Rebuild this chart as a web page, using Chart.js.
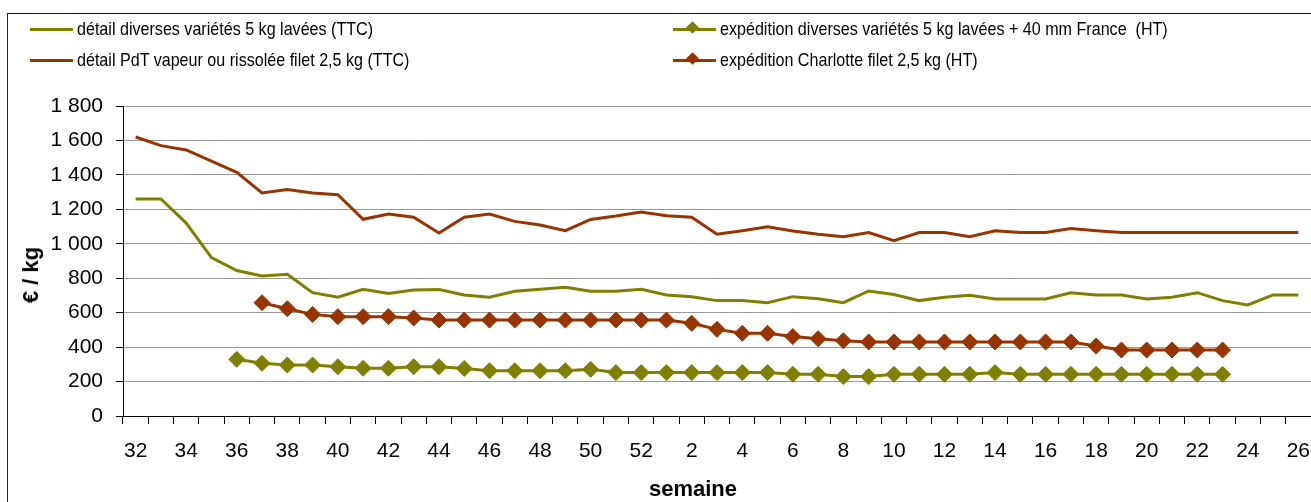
<!DOCTYPE html>
<html>
<head>
<meta charset="utf-8">
<script src="https://cdn.jsdelivr.net/npm/chart.js@4/dist/chart.umd.min.js"></script>
<style>
  html, body { margin: 0; padding: 0; background: #fff; }
  body { width: 1311px; height: 502px; position: relative; overflow: hidden; font-family: 'Liberation Sans', Arial, sans-serif; }
  #frame { position: absolute; left: 7px; top: 13px; width: 1320px; height: 520px; border-left: 1px solid #222; border-top: 1px solid #222; }
  #wrap { position: absolute; left: 0; top: 0; width: 1311px; height: 502px; }
  .leg { position: absolute; height: 22px; display: flex; align-items: center; }
  .sw { position: relative; width: 43px; height: 3px; margin-right: 4px; }
  .sw i { position: absolute; left: 15px; top: -5px; width: 9px; height: 9px; transform: rotate(45deg); }
  .leg span { font-size: 18.5px; color: #000; white-space: pre; transform: scaleX(0.87); transform-origin: left center; display: inline-block; }
  .atitle { position: absolute; font-size: 22px; font-weight: bold; white-space: pre; line-height: 1; }
  #ytitle { left: 31px; top: 275px; transform: translate(-50%, -50%) rotate(-90deg); }
  #xtitle { left: 693px; top: 489px; transform: translate(-50%, -50%); }
</style>
</head>
<body>
<div id="frame"></div>
<div id="wrap"><canvas id="c" width="1311" height="502"></canvas></div>
<div id="legend"></div>
<div id="ytitle" class="atitle">€ / kg</div>
<div id="xtitle" class="atitle">semaine</div>
<script>
// semaines 32 à 52 puis 1 à 26
const weeks = ['32','33','34','35','36','37','38','39','40','41','42','43','44','45','46','47','48','49','50','51','52',
  '1','2','3','4','5','6','7','8','9','10','11','12','13','14','15','16','17','18','19','20','21','22','23','24','25','26'];

const detailLavees = [1260,1260,1120,920,845,813,823,716,690,736,712,732,734,703,690,724,736,747,724,724,736,
  703,693,670,670,658,693,681,658,726,705,670,689,701,679,679,679,716,703,703,679,689,716,670,645,703,703];

const detailPdT = [1620,1570,1545,1480,1415,1295,1315,1295,1285,1142,1173,1154,1063,1154,1173,1130,1109,1076,1141,1161,1185,
  1163,1154,1055,1076,1099,1074,1055,1041,1065,1018,1065,1065,1041,1076,1065,1065,1088,1076,1065,1065,1065,1065,1065,1065,1065,1065];

const expLavees = [null,null,null,null,329,306,296,296,286,277,277,286,286,276,263,263,263,263,271,252,252,
  252,252,252,252,252,242,242,229,229,242,242,242,242,252,242,242,242,242,242,242,242,242,242,null,null,null];

const expCharlotte = [null,null,null,null,null,658,623,590,577,577,577,569,557,557,557,557,557,557,557,557,557,
  557,538,503,480,480,461,449,437,430,430,430,430,430,430,430,430,430,406,383,383,383,383,383,null,null,null];

const yTicks = { min: 0, max: 1800, step: 200 };

const OLIVE = '#808000';
const RUST = '#993300';

Chart.defaults.font.family = "'Liberation Sans', Arial, sans-serif";
Chart.defaults.color = '#000';

const lineDs = (label, data, color) => ({
  label, data, borderColor: color, backgroundColor: color, borderWidth: 3,
  pointRadius: 0, pointHoverRadius: 0, tension: 0, spanGaps: false
});
const markDs = (label, data, color) => ({
  label, data, borderColor: color, backgroundColor: color, borderWidth: 3,
  pointStyle: 'rectRot', pointRadius: 8, pointBorderWidth: 1, tension: 0
});

const chart = new Chart(document.getElementById('c'), {
  type: 'line',
  data: {
    labels: weeks,
    datasets: [
      lineDs('détail diverses variétés 5 kg lavées (TTC)', detailLavees, OLIVE),
      lineDs('détail PdT vapeur ou rissolée filet 2,5 kg (TTC)', detailPdT, RUST),
      markDs('expédition diverses variétés 5 kg lavées + 40 mm France  (HT)', expLavees, OLIVE),
      markDs('expédition Charlotte filet 2,5 kg (HT)', expCharlotte, RUST)
    ]
  },
  options: {
    responsive: false,
    animation: false,
    layout: { autoPadding: false, padding: { top: 106, left: 0, right: 0, bottom: 0 } },
    plugins: { legend: { display: false }, tooltip: { enabled: false } },
    scales: {
      x: {
        offset: true,
        grid: { offset: true, drawOnChartArea: false, drawTicks: true, tickLength: 8, tickColor: '#000' },
        border: { display: true, color: '#000', width: 1 },
        ticks: {
          autoSkip: false, maxRotation: 0, padding: 15, font: { size: 21 },
          callback: (v, i) => (i % 2 === 0 ? weeks[i] : '')
        },
        title: { display: false },
        afterFit: s => { s.height = 86; s.paddingLeft = 0; s.paddingRight = 0; }
      },
      y: {
        min: yTicks.min, max: yTicks.max,
        grid: { color: '#999', tickLength: 7, tickColor: '#000' },
        border: { display: true, color: '#000', width: 1 },
        ticks: {
          stepSize: yTicks.step, padding: 13, font: { size: 21 },
          callback: v => String(v).replace(/\B(?=(\d{3})+(?!\d))/g, ' ')
        },
        title: { display: false },
        afterFit: s => { s.width = 123; }
      }
    }
  }
});

// légende sur deux colonnes
const legendPos = [[30, 18], [30, 49], [673, 18], [673, 49]];
const legEl = document.getElementById('legend');
chart.data.datasets.forEach((ds, i) => {
  const d = document.createElement('div');
  d.className = 'leg';
  d.style.left = legendPos[i][0] + 'px';
  d.style.top = legendPos[i][1] + 'px';
  const mark = ds.pointStyle === 'rectRot' ? `<i style="background:${ds.borderColor}"></i>` : '';
  d.innerHTML = `<div class="sw" style="background:${ds.borderColor}">${mark}</div><span>${ds.label}</span>`;
  legEl.appendChild(d);
});
</script>
</body>
</html>
